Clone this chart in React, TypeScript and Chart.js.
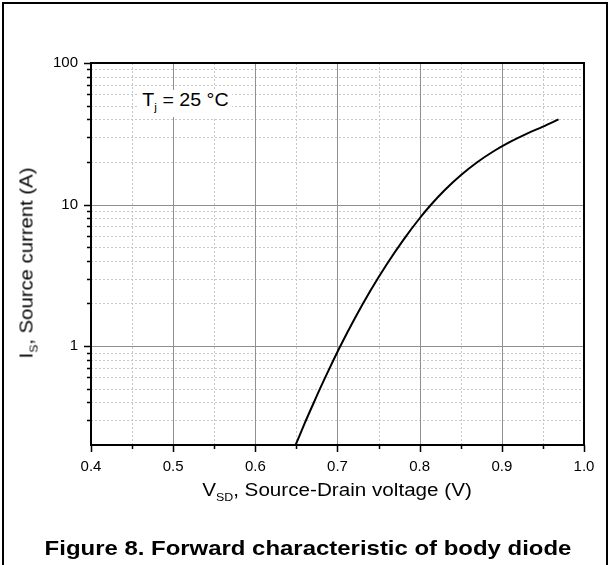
import React, { useEffect, useRef } from "react";
import { Chart, registerables } from "chart.js";

Chart.register(...registerables);

const voltage = [0.649, 0.66, 0.67, 0.68, 0.69, 0.7035, 0.72, 0.74, 0.76, 0.78, 0.8, 0.814, 0.83, 0.85, 0.87, 0.89, 0.91, 0.93, 0.95, 0.969];
const current = [0.2, 0.284, 0.385, 0.519, 0.69, 1.0, 1.53, 2.46, 3.79, 5.61, 8.0, 10, 12.57, 16.1, 19.9, 23.8, 27.7, 31.6, 35.5, 40];

const xTicks = [0.4, 0.5, 0.6, 0.7, 0.8, 0.9, 1.0];
const xMinor = [0.45, 0.55, 0.65, 0.75, 0.85, 0.95];
const yTicks = [1, 10, 100];
const yMinor = [0.3, 0.4, 0.5, 0.6, 0.7, 0.8, 0.9, 2, 3, 4, 5, 6, 7, 8, 9, 20, 30, 40, 50, 60, 70, 80, 90];
const yMajorGrid = [1, 10];
const xMajorGrid = [0.5, 0.6, 0.7, 0.8, 0.9];

const FONT = "'Liberation Sans', Arial, sans-serif";

const gridPlugin = {
  id: "customGrid",
  beforeDatasetsDraw(chart: any) {
    const { ctx, chartArea: a, scales } = chart;
    const xs = scales.x;
    const ys = scales.y;
    ctx.save();
    ctx.lineWidth = 1;
    ctx.strokeStyle = "#c8c8c8";
    ctx.setLineDash([2, 2]);
    ctx.beginPath();
    for (const v of yMinor) {
      const y = Math.round(ys.getPixelForValue(v)) + 0.5;
      ctx.moveTo(a.left, y);
      ctx.lineTo(a.right, y);
    }
    for (const v of xMinor) {
      const x = Math.round(xs.getPixelForValue(v)) + 0.5;
      ctx.moveTo(x, a.top);
      ctx.lineTo(x, a.bottom);
    }
    ctx.stroke();
    ctx.setLineDash([]);
    ctx.strokeStyle = "#909090";
    ctx.beginPath();
    for (const v of yMajorGrid) {
      const y = Math.round(ys.getPixelForValue(v)) + 0.5;
      ctx.moveTo(a.left, y);
      ctx.lineTo(a.right, y);
    }
    for (const v of xMajorGrid) {
      const x = Math.round(xs.getPixelForValue(v)) + 0.5;
      ctx.moveTo(x, a.top);
      ctx.lineTo(x, a.bottom);
    }
    ctx.stroke();
    ctx.restore();
  },
  afterDatasetsDraw(chart: any) {
    const { ctx, chartArea: a, scales } = chart;
    const xs = scales.x;
    const ys = scales.y;
    ctx.save();
    ctx.strokeStyle = "#000";
    ctx.lineWidth = 1.5;
    ctx.beginPath();
    for (const v of yTicks) {
      const y = Math.round(ys.getPixelForValue(v)) + 0.5;
      ctx.moveTo(a.left - 7, y);
      ctx.lineTo(a.left, y);
    }
    for (const v of yMinor) {
      const y = Math.round(ys.getPixelForValue(v)) + 0.5;
      ctx.moveTo(a.left - 4, y);
      ctx.lineTo(a.left, y);
    }
    for (const v of xTicks) {
      const x = Math.round(xs.getPixelForValue(v)) + 0.5;
      ctx.moveTo(x, a.bottom);
      ctx.lineTo(x, a.bottom + 7);
    }
    for (const v of xMinor) {
      const x = Math.round(xs.getPixelForValue(v)) + 0.5;
      ctx.moveTo(x, a.bottom);
      ctx.lineTo(x, a.bottom + 4);
    }
    ctx.stroke();
    ctx.lineWidth = 2;
    ctx.strokeRect(a.left, a.top, a.right - a.left, a.bottom - a.top);
    ctx.restore();
  },
};

export default function App() {
  const ref = useRef<HTMLCanvasElement>(null);
  useEffect(() => {
    if (!ref.current) return;
    const chart = new Chart(ref.current, {
      type: "line",
      data: {
        datasets: [
          {
            data: voltage.map((v, i) => ({ x: v, y: current[i] })),
            borderColor: "#000",
            borderWidth: 2,
            pointRadius: 0,
            cubicInterpolationMode: "monotone",
            fill: false,
          },
        ],
      },
      options: {
        responsive: false,
        animation: false,
        devicePixelRatio: 1,
        layout: { padding: { left: 0, top: 63, right: 27, bottom: 80 } },
        plugins: { legend: { display: false }, tooltip: { enabled: false } },
        scales: {
          x: {
            type: "linear",
            min: 0.4,
            max: 1.0,
            afterBuildTicks: (s: any) => {
              s.ticks = xTicks.map((v) => ({ value: v }));
            },
            afterFit: (s: any) => {
              s.height = 40;
            },
            ticks: {
              callback: (v: any) => Number(v).toFixed(1),
              color: "#000",
              font: { family: FONT, size: 15 },
              padding: 6,
              maxRotation: 0,
              autoSkip: false,
            },
            grid: { display: true, drawOnChartArea: false, drawTicks: true, tickLength: 7, tickColor: "rgba(0,0,0,0)" },
            border: { display: false },
          },
          y: {
            type: "logarithmic",
            min: 0.2,
            max: 100,
            afterBuildTicks: (s: any) => {
              s.ticks = yTicks.map((v) => ({ value: v }));
            },
            afterFit: (s: any) => {
              s.width = 91;
            },
            ticks: {
              callback: (v: any) => String(v),
              color: "#000",
              font: { family: FONT, size: 15 },
              padding: 6,
              autoSkip: false,
            },
            grid: { display: true, drawOnChartArea: false, drawTicks: true, tickLength: 7, tickColor: "rgba(0,0,0,0)" },
            border: { display: false },
          },
        },
      },
      plugins: [gridPlugin],
    } as any);
    return () => chart.destroy();
  }, []);

  const sub: React.CSSProperties = { fontSize: "10.5px", verticalAlign: "-5px" };

  return (
    <div style={{ position: "fixed", left: 0, top: 0, width: 611, height: 565, overflow: "hidden", background: "#fff", fontFamily: FONT, color: "#000" }}>
      <canvas ref={ref} width={611} height={565} style={{ position: "absolute", left: 0, top: 0 }} />
      <div style={{ position: "absolute", left: 2, top: 2, width: 602, height: 600, border: "2px solid #000", pointerEvents: "none" }} />
      <div style={{ position: "absolute", left: 139, top: 90, fontSize: "17.5px", background: "#fff", padding: "0 3px", lineHeight: "20px", whiteSpace: "nowrap", transform: "scaleX(1.12)", transformOrigin: "left center" }}>
        T<span style={sub}>j</span> = 25 °C
      </div>
      <div style={{ position: "absolute", left: 30, top: 262.5, transform: "translate(-50%, -50%) rotate(-90deg) scaleX(1.16)", fontSize: "17.5px", whiteSpace: "nowrap", lineHeight: "20px" }}>
        I<span style={sub}>S</span>, Source current (A)
      </div>
      <div style={{ position: "absolute", left: 337, top: 480, transform: "translateX(-50%) scaleX(1.18)", fontSize: "17.5px", whiteSpace: "nowrap", lineHeight: "20px" }}>
        V<span style={sub}>SD</span>, Source-Drain voltage (V)
      </div>
      <div style={{ position: "absolute", left: 308, top: 535, transform: "translateX(-50%) scaleX(1.14)", fontSize: "21px", fontWeight: "bold", whiteSpace: "nowrap", lineHeight: "26px" }}>
        Figure 8. Forward characteristic of body diode
      </div>
    </div>
  );
}
